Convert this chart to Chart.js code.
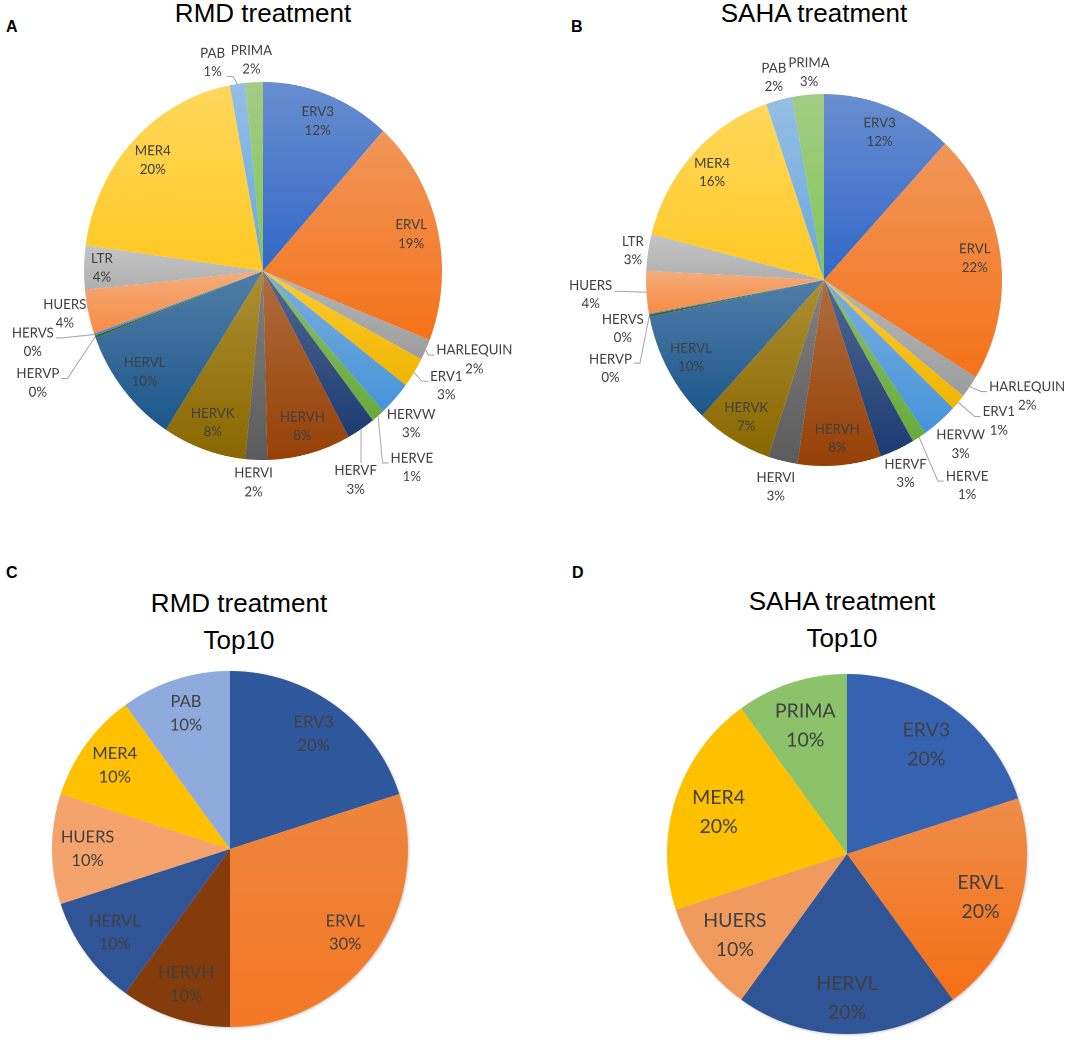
<!DOCTYPE html>
<html>
<head>
<meta charset="utf-8">
<script src="https://cdn.jsdelivr.net/npm/chart.js@4.4.1/dist/chart.umd.min.js"></script>
<style>
html,body{margin:0;padding:0;background:#fff;}
body{width:1084px;height:1051px;position:relative;overflow:hidden;}
.t{position:absolute;font-family:'Liberation Sans',Arial,sans-serif;font-size:26px;color:#000;text-align:center;white-space:nowrap;width:400px;}
.p{position:absolute;font-family:'Liberation Sans',Arial,sans-serif;font-weight:bold;font-size:16px;line-height:15px;color:#000;}
canvas{position:absolute;}
</style>
</head>
<body>
<div class="p" style="left:6px;top:19px">A</div>
<div class="p" style="left:571px;top:19px">B</div>
<div class="p" style="left:6px;top:565px">C</div>
<div class="p" style="left:572px;top:565px">D</div>
<div class="t" style="left:63px;top:-2px;line-height:30px">RMD treatment</div>
<div class="t" style="left:614px;top:-2px;line-height:30px">SAHA treatment</div>
<div class="t" style="left:39px;top:584.5px;line-height:37px">RMD treatment<br>Top10</div>
<div class="t" style="left:642px;top:582.5px;line-height:37px">SAHA treatment<br>Top10</div>
<canvas id="cA" width="526" height="470" style="left:-0.5px;top:36.3px;transform:scaleY(1.056);transform-origin:50% 50%;"></canvas>
<canvas id="cB" width="520" height="470" style="left:563.5px;top:45px;transform:scaleY(1.045);transform-origin:50% 50%;"></canvas>
<canvas id="cC" width="400" height="400" style="left:30px;top:649px;"></canvas>
<canvas id="cD" width="400" height="400" style="left:647.3px;top:654px;"></canvas>
<script>
// ---------- data ----------
const categories = ['ERV3','ERVL','HARLEQUIN','ERV1','HERVW','HERVE','HERVF','HERVH','HERVI','HERVK','HERVL','HERVP','HERVS','HUERS','LTR','MER4','PAB','PRIMA'];
const rmdValues  = [11.8, 19.4, 1.8, 2.6, 3.0, 1.2, 2.6, 7.6, 2.0, 7.6, 10.2, 0.2, 0.2, 3.8, 3.8, 20.0, 1.4, 1.6];
const sahaValues = [12.0, 22.0, 2.0, 1.4, 3.3, 1.3, 3.2, 7.6, 2.7, 7.0, 9.9, 0.2, 0.1, 3.7, 3.2, 15.9, 2.4, 2.9];
const rmdTop10Categories = ['ERV3','ERVL','HERVH','HERVL','HUERS','MER4','PAB'];
const rmdTop10Values = [2, 3, 1, 1, 1, 1, 1];
const sahaTop10Categories = ['ERV3','ERVL','HERVL','HUERS','MER4','PRIMA'];
const sahaTop10Values = [2, 2, 2, 1, 2, 1];

// ---------- styles ----------
const fullColors = ['#4472C4','#ED7D31','#A5A5A5','#FFC000','#5B9BD5','#70AD47','#264478','#9E480E','#636363','#997300','#255E91','#43682B','#698ED0','#F1975A','#B7B7B7','#FFCD33','#7CAFDD','#8CC168'];
const rmdTop10Colors = ['#2F579C','#ED7D31','#843C0C','#2F5597','#F3A36B','#FFC000','#8FAADC'];
const sahaTop10Colors = ['#3662B2','#ED7D31','#2F5597','#F09B5D','#FFC000','#8CC26A'];

function hexToRgb(h){const n=parseInt(h.slice(1),16);return [n>>16&255,n>>8&255,n&255];}
function mix(h,t,w){const a=hexToRgb(h),b=hexToRgb(t);return 'rgb('+a.map((v,i)=>Math.round(v+(b[i]-v)*w)).join(',')+')';}
function rgbToHsl(r,g,b){r/=255;g/=255;b/=255;const mx=Math.max(r,g,b),mn=Math.min(r,g,b);let h=0,s=0;const l=(mx+mn)/2;
  if(mx!==mn){const d=mx-mn;s=l>0.5?d/(2-mx-mn):d/(mx+mn);
    if(mx===r)h=(g-b)/d+(g<b?6:0);else if(mx===g)h=(b-r)/d+2;else h=(r-g)/d+4;h/=6;}
  return [h,s,l];}
function deepen(hex, ds, dl){const [r,g,b]=hexToRgb(hex);let [h,s,l]=rgbToHsl(r,g,b);
  if(s>0.05) s=Math.min(1,s+ds);
  l=Math.max(0,l-dl);
  return 'hsl('+(h*360).toFixed(1)+','+(s*100).toFixed(1)+'%,'+(l*100).toFixed(1)+'%)';}

function gradFill(ctx, base, light, ds, dl){
  const chart=ctx.chart, ca=chart.chartArea;
  if(!ca) return base;
  const data=ctx.dataset.data, i=ctx.dataIndex;
  const total=data.reduce((s,v)=>s+v,0);
  let before=0; for(let j=0;j<i;j++) before+=data[j];
  const a0=-Math.PI/2+2*Math.PI*before/total, a1=a0+2*Math.PI*data[i]/total;
  const cy=(ca.top+ca.bottom)/2, r=ctx.dataset.radius;
  const ys=[cy, cy+r*Math.sin(a0), cy+r*Math.sin(a1)];
  [Math.PI/2, 3*Math.PI/2, -Math.PI/2].forEach(t=>{ if(t>=a0 && t<=a1) ys.push(cy+r*Math.sin(t)); });
  const y0=Math.min(...ys), y1=Math.max(...ys);
  if(y1-y0<1) return base;
  const g=chart.ctx.createLinearGradient(0,y0,0,y1);
  g.addColorStop(0, mix(base,'#ffffff',light));
  g.addColorStop(1, deepen(base, ds, dl));
  return g;
}

const shadowPlugin = {
  id:'pieShadow',
  beforeDatasetsDraw(chart, args, opts){
    if(!opts || !opts.on) return;
    const arc=chart.getDatasetMeta(0).data[0];
    if(!arc) return;
    const ctx=chart.ctx;
    ctx.save();
    ctx.shadowColor='rgba(0,0,0,0.35)'; ctx.shadowBlur=7; ctx.shadowOffsetX=2; ctx.shadowOffsetY=2;
    ctx.beginPath(); ctx.arc(arc.x, arc.y, arc.outerRadius-1, 0, Math.PI*2);
    ctx.fillStyle='#ffffff'; ctx.fill();
    ctx.restore();
  }
};

const labelPlugin = {
  id:'sliceLabels',
  afterDatasetsDraw(chart, args, opts){
    const ctx=chart.ctx;
    const meta=chart.getDatasetMeta(0);
    const data=chart.data.datasets[0].data;
    const total=data.reduce((a,b)=>a+b,0);
    ctx.save();
    ctx.font=opts.size+'px Lato, "Open Sans", sans-serif';
    ctx.textAlign='center'; ctx.textBaseline='middle';
    meta.data.forEach((arc,i)=>{
      const name=chart.data.labels[i];
      const pct=Math.round(data[i]/total*100)+'%';
      const r=arc.outerRadius;
      const mid=(arc.startAngle+arc.endAngle)/2;
      const o=(opts.outside||{})[name];
      let ang,k;
      if(o){ ang=(o.a-90)*Math.PI/180; k=o.k; }
      else { ang=mid; k=(opts.inside||{})[name]||opts.k; }
      const x=arc.x+Math.cos(ang)*r*k, y=arc.y+Math.sin(ang)*r*k;
      const lh=opts.lh;
      const w=Math.max(ctx.measureText(name).width, ctx.measureText(pct).width);
      if(o && o.leader){
        const sx=arc.x+Math.cos(mid)*r, sy=arc.y+Math.sin(mid)*r;
        ctx.strokeStyle='#a6a6a6'; ctx.lineWidth=1;
        ctx.beginPath(); ctx.moveTo(sx,sy);
        if(o.leader==='top'){
          ctx.lineTo(sx, y-lh/2-opts.size*0.55);
        } else {
          const ey=y+(o.ey!==undefined?o.ey:-4);
          const ex=o.leader==='left'? x-w/2-2 : x+w/2+2;
          const elx=o.leader==='left'? ex-6 : ex+6;
          ctx.lineTo(elx,ey); ctx.lineTo(ex,ey);
        }
        ctx.stroke();
      }
      ctx.fillStyle='#404040';
      ctx.fillText(name, x, y-lh/2);
      ctx.fillText(pct, x, y+lh/2);
    });
    ctx.restore();
  }
};

const layoutA = {
  size:13.3, lh:17.6, k:0.85, inside:{LTR:0.9},
  outside:{
    PAB:{a:345.7,k:1.14,leader:'right',ey:13.6},
    PRIMA:{a:356.7,k:1.12},
    HARLEQUIN:{a:111.6,k:1.27,leader:'left'},
    ERV1:{a:120.6,k:1.19,leader:'left'},
    HERVW:{a:134.3,k:1.157},
    HERVE:{a:141.3,k:1.33,leader:'left'},
    HERVF:{a:154.9,k:1.22,leader:'top'},
    HERVI:{a:182.7,k:1.12},
    HERVP:{a:244.8,k:1.39,leader:'right'},
    HERVS:{a:253.7,k:1.34,leader:'right'},
    HUERS:{a:258.5,k:1.13}
  }
};
const layoutB = {
  size:13.3, lh:17.6, k:0.855,
  outside:{
    PAB:{a:345.5,k:1.125},
    PRIMA:{a:355.7,k:1.12},
    LTR:{a:278.4,k:1.085},
    HUERS:{a:266.6,k:1.313,leader:'right',ey:-3},
    HERVS:{a:257,k:1.16},
    HERVP:{a:248.4,k:1.29,leader:'right',ey:-5},
    HARLEQUIN:{a:118.6,k:1.30,leader:'left'},
    ERV1:{a:127.6,k:1.24,leader:'left'},
    HERVW:{a:139,k:1.17},
    HERVE:{a:143.9,k:1.365,leader:'left'},
    HERVF:{a:156.2,k:1.136},
    HERVI:{a:193.7,k:1.144}
  }
};
const layoutC = { size:16.5, lh:23.3, k:0.8 };
const layoutD = { size:19.5, lh:29, k:0.75, inside:{ERVL:0.78, HERVL:0.8, HUERS:0.77} };

function makePie(id, labels, values, fill, radius, labelOpts, shadow){
  return new Chart(document.getElementById(id), {
    type:'pie',
    data:{ labels:labels, datasets:[{ data:values, backgroundColor:fill, borderWidth:0, radius:radius }] },
    options:{
      responsive:false, animation:false, devicePixelRatio:2, events:[],
      radius:radius,
      layout:{padding:0},
      plugins:{ legend:{display:false}, tooltip:{enabled:false}, title:{display:false},
        sliceLabels:labelOpts, pieShadow:{on:shadow} }
    },
    plugins:[shadowPlugin, labelPlugin]
  });
}

function draw(){
  makePie('cA', categories, rmdValues, ctx=>gradFill(ctx, fullColors[ctx.dataIndex], 0.2, 0.08, 0.03), 179, layoutA, false);
  makePie('cB', categories, sahaValues, ctx=>gradFill(ctx, fullColors[ctx.dataIndex], 0.2, 0.08, 0.03), 178, layoutB, false);
  makePie('cC', rmdTop10Categories, rmdTop10Values, ctx=>{
    const c=rmdTop10Colors[ctx.dataIndex];
    return rmdTop10Categories[ctx.dataIndex]==='ERVL' ? gradFill(ctx,c,0.06,0.06,0.01) : c;
  }, 178, layoutC, true);
  makePie('cD', sahaTop10Categories, sahaTop10Values, ctx=>{
    const c=sahaTop10Colors[ctx.dataIndex];
    return sahaTop10Categories[ctx.dataIndex]==='ERVL' ? gradFill(ctx,c,0.12,0.08,0.04) : c;
  }, 180, layoutD, true);
}
if(document.fonts && document.fonts.load){
  Promise.all([document.fonts.load('13px Lato'), document.fonts.load('26px "Liberation Sans"')]).then(draw, draw);
} else { draw(); }
</script>
</body>
</html>
